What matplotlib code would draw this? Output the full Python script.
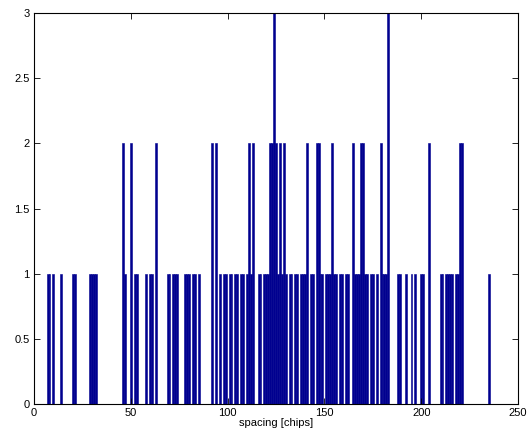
import matplotlib
matplotlib.use("Agg")
import matplotlib.pyplot as plt
import numpy as np

plt.rcParams['font.family'] = ['Liberation Sans', 'DejaVu Sans']

# histogram of spacings, bin width 1 chip
ones = [7, 8, 10, 14, 20, 21, 29, 30, 31, 32, 47, 52, 53, 58, 60, 61, 69, 70, 72, 73, 74,
        78, 79, 80, 82, 83, 85, 96, 98, 99, 101, 102, 104, 105, 107, 108, 110, 112, 116,
        117, 119, 120, 121, 126, 128, 130, 132, 133, 135, 136, 138, 139,
        140, 143, 144, 148, 149, 151, 152, 153, 155, 156, 158, 159, 161,
        162, 166, 167, 168, 171, 172, 174, 175, 177, 180, 181, 182, 188, 189,
        192, 195, 197, 200, 201, 210, 211, 213, 214, 215, 216, 218, 219, 235]
twos = [46, 50, 63, 92, 94, 111, 113, 122, 123, 125, 127, 129, 141, 146, 147, 154, 165,
        169, 170, 179, 204, 220, 221]
threes = [124, 183]

spacing = np.arange(0, 251)
counts = np.zeros(len(spacing))
counts[ones] = 1
counts[twos] = 2
counts[threes] = 3

fig = plt.figure(figsize=(5.31, 4.36), dpi=100)
ax = fig.add_axes([34 / 531, 1 - 404 / 436, 484 / 531, 391 / 436])
navy = (0, 0, 0.5625)
ax.bar(spacing, counts, width=1.0, color=navy, edgecolor=navy, linewidth=0.4)

ax.set_xlim(0, 250)
ax.set_ylim(0, 3)
ax.set_xticks(np.arange(0, 251, 50))
ax.set_yticks(np.arange(0, 3.01, 0.5))
ax.set_yticklabels(['0', '0.5', '1', '1.5', '2', '2.5', '3'])
ax.tick_params(direction='in', top=True, right=True, length=4, width=0.6, labelsize=8, pad=3)
for s in ax.spines.values():
    s.set_linewidth(0.8)
ax.set_xlabel('spacing [chips]', fontsize=8, labelpad=0)

fig.savefig('out.png', dpi=100)
